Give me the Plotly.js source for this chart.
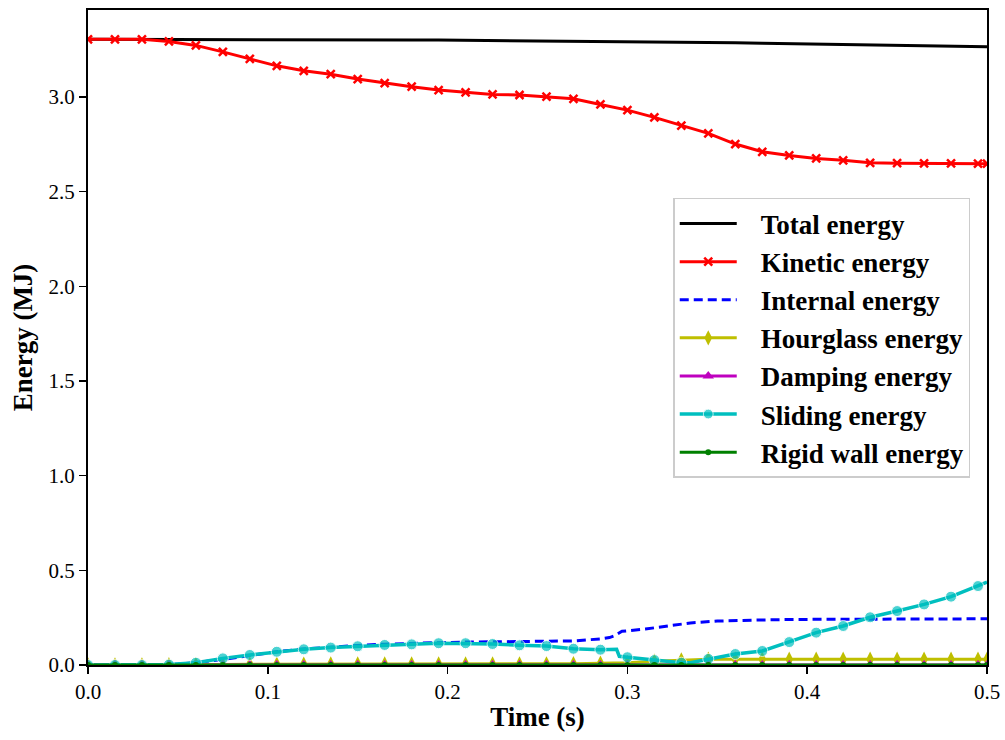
<!DOCTYPE html>
<html>
<head>
<meta charset="utf-8">
<script src="https://cdn.plot.ly/plotly-3.0.1.min.js"></script>
<style>html,body{margin:0;padding:0;background:#fff;}#chart{width:1005px;height:740px;}</style>
</head>
<body>
<div id="chart"></div>
<script>
// Marker-grid times (s)
const time = [0, 0.015, 0.03, 0.045, 0.06, 0.075, 0.09, 0.105, 0.12, 0.135, 0.15, 0.165, 0.18, 0.195,
  0.21, 0.225, 0.24, 0.255, 0.27, 0.285, 0.30, 0.315, 0.33, 0.345, 0.36, 0.375, 0.39, 0.405, 0.42,
  0.435, 0.45, 0.465, 0.48, 0.495, 0.5];

const totalEnergy = [3.305, 3.305, 3.305, 3.305, 3.305, 3.305, 3.304, 3.304, 3.304, 3.303, 3.303, 3.302, 3.302, 3.301,
  3.300, 3.300, 3.299, 3.298, 3.297, 3.296, 3.294, 3.292, 3.290, 3.289, 3.287, 3.285, 3.283, 3.280, 3.278,
  3.276, 3.273, 3.271, 3.269, 3.267, 3.266];

const kineticEnergy = [3.305, 3.305, 3.305, 3.294, 3.273, 3.239, 3.202, 3.165, 3.139, 3.121, 3.095, 3.074, 3.055, 3.037,
  3.025, 3.014, 3.011, 3.002, 2.991, 2.961, 2.931, 2.893, 2.849, 2.808, 2.752, 2.711, 2.692, 2.676, 2.666,
  2.653, 2.651, 2.650, 2.650, 2.648, 2.648];

const timeInternal = [0, 0.03, 0.04, 0.05, 0.06, 0.075, 0.09, 0.105, 0.12, 0.135, 0.15, 0.165, 0.18, 0.195, 0.21,
  0.225, 0.24, 0.255, 0.27, 0.285, 0.29, 0.293, 0.297, 0.31, 0.32, 0.335, 0.35, 0.365, 0.38, 0.4, 0.45, 0.5];
const internalEnergy = [0, 0, 0.001, 0.005, 0.012, 0.03, 0.05, 0.07, 0.085, 0.095, 0.103, 0.11, 0.115, 0.118, 0.121,
  0.122, 0.122, 0.123, 0.127, 0.138, 0.145, 0.155, 0.178, 0.19, 0.203, 0.222, 0.232, 0.237, 0.239, 0.241, 0.243, 0.244];

const hourglassEnergy = [0, 0, 0, 0.001, 0.002, 0.003, 0.004, 0.004, 0.004, 0.005, 0.005, 0.005, 0.005, 0.005,
  0.005, 0.005, 0.005, 0.006, 0.007, 0.009, 0.012, 0.02, 0.027, 0.030, 0.030, 0.030, 0.030, 0.030, 0.030,
  0.031, 0.031, 0.031, 0.031, 0.031, 0.031];

const dampingEnergy = time.map(() => 0);

const timeSliding = [0, 0.015, 0.03, 0.045, 0.06, 0.075, 0.09, 0.105, 0.12, 0.135, 0.15, 0.165, 0.18, 0.195,
  0.21, 0.225, 0.24, 0.255, 0.27, 0.285, 0.294, 0.2955, 0.30, 0.315, 0.33, 0.335, 0.345, 0.36, 0.375, 0.39, 0.405, 0.42,
  0.435, 0.45, 0.465, 0.48, 0.495, 0.5];
const slidingEnergy = [0, 0, 0, 0.002, 0.012, 0.035, 0.053, 0.070, 0.083, 0.092, 0.099, 0.106, 0.109, 0.115,
  0.115, 0.111, 0.104, 0.100, 0.086, 0.081, 0.083, 0.046, 0.041, 0.026, 0.012, 0.012, 0.032, 0.058, 0.074, 0.121, 0.171, 0.206,
  0.252, 0.285, 0.320, 0.361, 0.417, 0.438];

const rigidWallEnergy = time.map(() => 0);

const seriesNames = ["Total energy", "Kinetic energy", "Internal energy", "Hourglass energy",
  "Damping energy", "Sliding energy", "Rigid wall energy"];

const xTicks = [0, 0.1, 0.2, 0.3, 0.4, 0.5];
const yTicks = [0, 0.5, 1.0, 1.5, 2.0, 2.5, 3.0];

function markSizes(ts, s) {
  return ts.map(t => Math.abs(t / 0.015 - Math.round(t / 0.015)) < 1e-6 ? s : 0);
}
const pad = '\u2002\u2009';

const traces = [
  {x: time, y: totalEnergy, name: pad + seriesNames[0], mode: 'lines', line: {color: '#000000', width: 3}},
  {x: time, y: kineticEnergy, name: pad + seriesNames[1], mode: 'lines+markers', line: {color: '#ff0000', width: 3},
   marker: {symbol: 'x-thin-open', size: 8, color: '#ff0000', line: {color: '#ff0000', width: 2.5}}},
  {x: timeInternal, y: internalEnergy, name: pad + seriesNames[2], mode: 'lines', line: {color: '#0000ff', width: 3, dash: '9px,5px'}},
  {x: time, y: hourglassEnergy, name: pad + seriesNames[3], mode: 'lines+markers', line: {color: '#bfbf00', width: 3},
   marker: {symbol: 'diamond-tall', size: 11, color: '#bfbf00'}},
  {x: time, y: dampingEnergy, name: pad + seriesNames[4], mode: 'lines+markers', line: {color: '#bf00bf', width: 3},
   marker: {symbol: 'triangle-up', size: 10, color: '#bf00bf'}},
  {x: timeSliding, y: slidingEnergy, name: pad + seriesNames[5], mode: 'lines+markers', line: {color: '#00bfbf', width: 3.5},
   marker: {symbol: 'circle', size: markSizes(timeSliding, 11), color: '#00bfbf'}},
  {x: time, y: rigidWallEnergy, name: pad + seriesNames[6], mode: 'lines+markers', line: {color: '#008000', width: 3},
   marker: {symbol: 'circle', size: 6, color: '#008000'}}
];

const font = {family: 'Liberation Serif, Times New Roman, serif', color: '#000'};

const layout = {
  width: 1005, height: 740,
  margin: {l: 88, r: 18, t: 10, b: 75},
  paper_bgcolor: '#fff', plot_bgcolor: '#fff',
  font: font,
  showlegend: true,
  xaxis: {
    range: [0, 0.5], tickvals: xTicks, tickformat: '.1f',
    ticks: 'outside', ticklen: 7, tickwidth: 1.5, tickcolor: '#000',
    showline: true, linecolor: '#000', linewidth: 2, mirror: true,
    showgrid: false, zeroline: false,
    tickfont: {family: font.family, size: 21, color: '#000'},
    title: {text: '<b>Time (s)</b>', font: {family: font.family, size: 27, color: '#000'}, standoff: 4}
  },
  yaxis: {
    range: [0, 3.46], tickvals: yTicks, tickformat: '.1f',
    ticks: 'outside', ticklen: 7, tickwidth: 1.5, tickcolor: '#000',
    showline: true, linecolor: '#000', linewidth: 2, mirror: true,
    showgrid: false, zeroline: false,
    tickfont: {family: font.family, size: 21, color: '#000'},
    title: {text: '<b>Energy (MJ)</b>', font: {family: font.family, size: 27, color: '#000'}, standoff: 8}
  },
  legend: {
    x: 0.651, y: 0.713, xanchor: 'left', yanchor: 'top',
    bgcolor: 'rgba(255,255,255,0.9)', bordercolor: '#cccccc', borderwidth: 1.5,
    font: {family: font.family, size: 27, color: '#000', weight: 'bold'},
    itemwidth: 57, tracegroupgap: 0
  }
};

Plotly.newPlot('chart', traces, layout, {displayModeBar: false, staticPlot: true});
</script>
</body>
</html>
